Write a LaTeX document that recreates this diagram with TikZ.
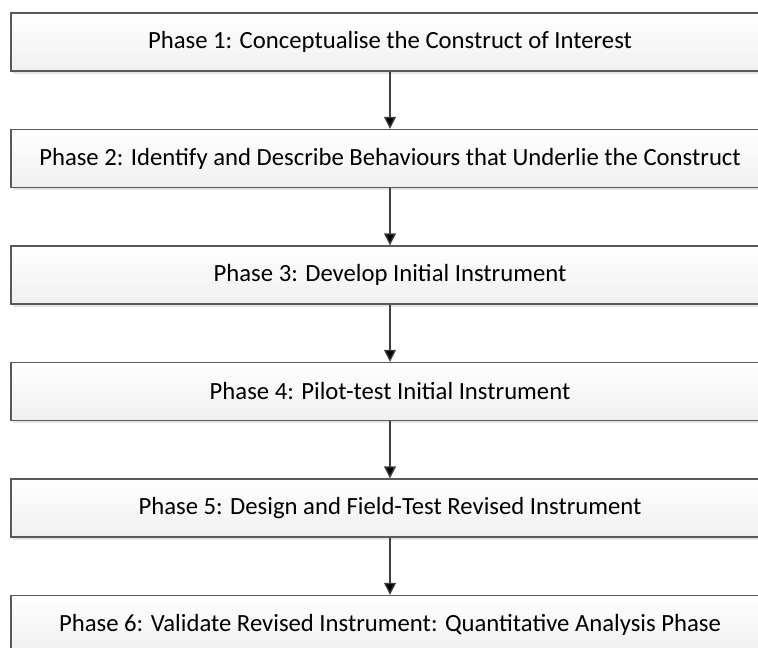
\documentclass[tikz,border=0pt]{standalone}
\usepackage{fontspec}
\setmainfont{Carlito}
\usetikzlibrary{positioning,shadows,arrows.meta}

\tikzset{
  phasebox/.style={draw=black!65, line width=1.4pt, top color=white, bottom color=black!6,
    minimum width=758pt, minimum height=58pt, inner sep=0pt,
    font=\fontsize{24.7pt}{28pt}\selectfont,
    drop shadow={shadow xshift=2pt, shadow yshift=-2.5pt, fill=black!10, opacity=1}},
  phasearrow/.style={draw=black!75, line width=1.4pt, -{Triangle[length=12pt, width=12pt]}}
}

\begin{document}
\begin{tikzpicture}[node distance=57.1pt]
  \useasboundingbox (0pt,0pt) rectangle (758pt,-648pt);
  % phases
  \node[phasebox] (PhaseOne) at (390pt,-42pt) {Phase 1: Conceptualise the Construct of Interest};
  \node[phasebox, below=of PhaseOne] (PhaseTwo) {Phase 2: Identify and Describe Behaviours that Underlie the Construct};
  \node[phasebox, below=of PhaseTwo] (PhaseThree) {Phase 3: Develop Initial Instrument};
  \node[phasebox, below=of PhaseThree] (PhaseFour) {Phase 4: Pilot-test Initial Instrument};
  \node[phasebox, below=of PhaseFour] (PhaseFive) {Phase 5: Design and Field-Test Revised Instrument};
  \node[phasebox, below=of PhaseFive] (PhaseSix) {Phase 6: Validate Revised Instrument: Quantitative Analysis Phase};

  % arrows
  \path[phasearrow]
  (PhaseOne) edge (PhaseTwo)
  (PhaseTwo) edge (PhaseThree)
  (PhaseThree) edge (PhaseFour)
  (PhaseFour) edge (PhaseFive)
  (PhaseFive) edge (PhaseSix);
\end{tikzpicture}
\end{document}
